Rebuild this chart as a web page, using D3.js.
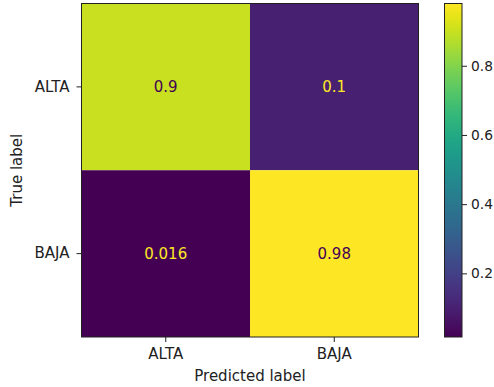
<!DOCTYPE html>
<html>
<head>
<meta charset="utf-8">
<script src="https://cdn.jsdelivr.net/npm/d3@7/dist/d3.min.js"></script>
<style>
  html, body { margin: 0; padding: 0; background: #fff; }
  svg { display: block; font-family: "DejaVu Sans", sans-serif; }
</style>
</head>
<body>
<svg id="chart" width="494" height="387"></svg>
<script>
// Confusion matrix (row-normalised): rows = true label, columns = predicted label
const trueLabels = ["ALTA", "BAJA"];
const predLabels = ["ALTA", "BAJA"];
const rowAlta = [0.9, 0.1];
const rowBaja = [0.016, 0.98];
const colorbarTicks = [0.2, 0.4, 0.6, 0.8];

const matrix = [rowAlta, rowBaja];
const cells = [];
matrix.forEach((row, i) => row.forEach((v, j) => cells.push({ t: trueLabels[i], p: predLabels[j], v })));

const svg = d3.select("#chart");
const plot = { left: 81.5, top: 3.5, width: 337, height: 333.5 };
const cbar = { left: 444.5, width: 17.5 };
const fontSize = 15;
const ink = "#222";

const x = d3.scaleBand().domain(predLabels).range([plot.left, plot.left + plot.width]);
const y = d3.scaleBand().domain(trueLabels).range([plot.top, plot.top + plot.height]);

const extent = d3.extent(cells, d => d.v);
const color = d3.scaleSequential(d3.interpolateViridis).domain(extent);
const mid = (extent[0] + extent[1]) / 2;

// heatmap cells
svg.append("g").selectAll("rect").data(cells).join("rect")
  .attr("x", d => x(d.p)).attr("y", d => y(d.t))
  .attr("width", x.bandwidth()).attr("height", y.bandwidth())
  .attr("fill", d => color(d.v));

// value annotations: light text on dark cells, dark text on light cells
svg.append("g").selectAll("text").data(cells).join("text")
  .attr("x", d => x(d.p) + x.bandwidth() / 2)
  .attr("y", d => y(d.t) + y.bandwidth() / 2)
  .attr("text-anchor", "middle").attr("dominant-baseline", "central")
  .attr("font-size", fontSize)
  .attr("fill", d => d.v < mid ? d3.interpolateViridis(1) : d3.interpolateViridis(0))
  .text(d => d3.format(".2")(d.v));

// frame
svg.append("rect")
  .attr("x", plot.left).attr("y", plot.top)
  .attr("width", plot.width).attr("height", plot.height)
  .attr("fill", "none").attr("stroke", ink).attr("stroke-width", 1);

// axes
const xAxis = svg.append("g")
  .attr("transform", `translate(0,${plot.top + plot.height})`)
  .call(d3.axisBottom(x).tickSize(5).tickSizeOuter(0).tickPadding(6));
const yAxis = svg.append("g")
  .attr("transform", `translate(${plot.left},0)`)
  .call(d3.axisLeft(y).tickSize(5).tickSizeOuter(0).tickPadding(7));
[xAxis, yAxis].forEach(a => {
  a.select(".domain").remove();
  a.selectAll("line").attr("stroke", ink);
  a.selectAll("text").attr("font-size", fontSize).attr("fill", ink)
    .attr("font-family", "DejaVu Sans, sans-serif");
});

// axis titles
svg.append("text")
  .attr("x", plot.left + plot.width / 2).attr("y", 381)
  .attr("text-anchor", "middle").attr("font-size", fontSize).attr("fill", ink)
  .text("Predicted label");
svg.append("text")
  .attr("transform", `translate(22,${plot.top + plot.height / 2}) rotate(-90)`)
  .attr("text-anchor", "middle").attr("font-size", fontSize).attr("fill", ink)
  .text("True label");

// colorbar
const cy = d3.scaleLinear().domain(extent).range([plot.top + plot.height, plot.top]);
const defs = svg.append("defs");
const grad = defs.append("linearGradient").attr("id", "viridis-grad")
  .attr("x1", 0).attr("y1", 1).attr("x2", 0).attr("y2", 0);
d3.range(0, 1.0001, 0.025).forEach(t => {
  grad.append("stop").attr("offset", t).attr("stop-color", d3.interpolateViridis(t));
});
svg.append("rect")
  .attr("x", cbar.left).attr("y", plot.top)
  .attr("width", cbar.width).attr("height", plot.height)
  .attr("fill", "url(#viridis-grad)")
  .attr("stroke", ink).attr("stroke-width", 1);

const cAxis = svg.append("g")
  .attr("transform", `translate(${cbar.left + cbar.width},0)`)
  .call(d3.axisRight(cy).tickValues(colorbarTicks).tickFormat(d3.format(".1f"))
    .tickSize(5).tickSizeOuter(0).tickPadding(4));
cAxis.select(".domain").remove();
cAxis.selectAll("line").attr("stroke", ink);
cAxis.selectAll("text").attr("font-size", 13.8).attr("fill", ink)
  .attr("font-family", "DejaVu Sans, sans-serif");
</script>
</body>
</html>
